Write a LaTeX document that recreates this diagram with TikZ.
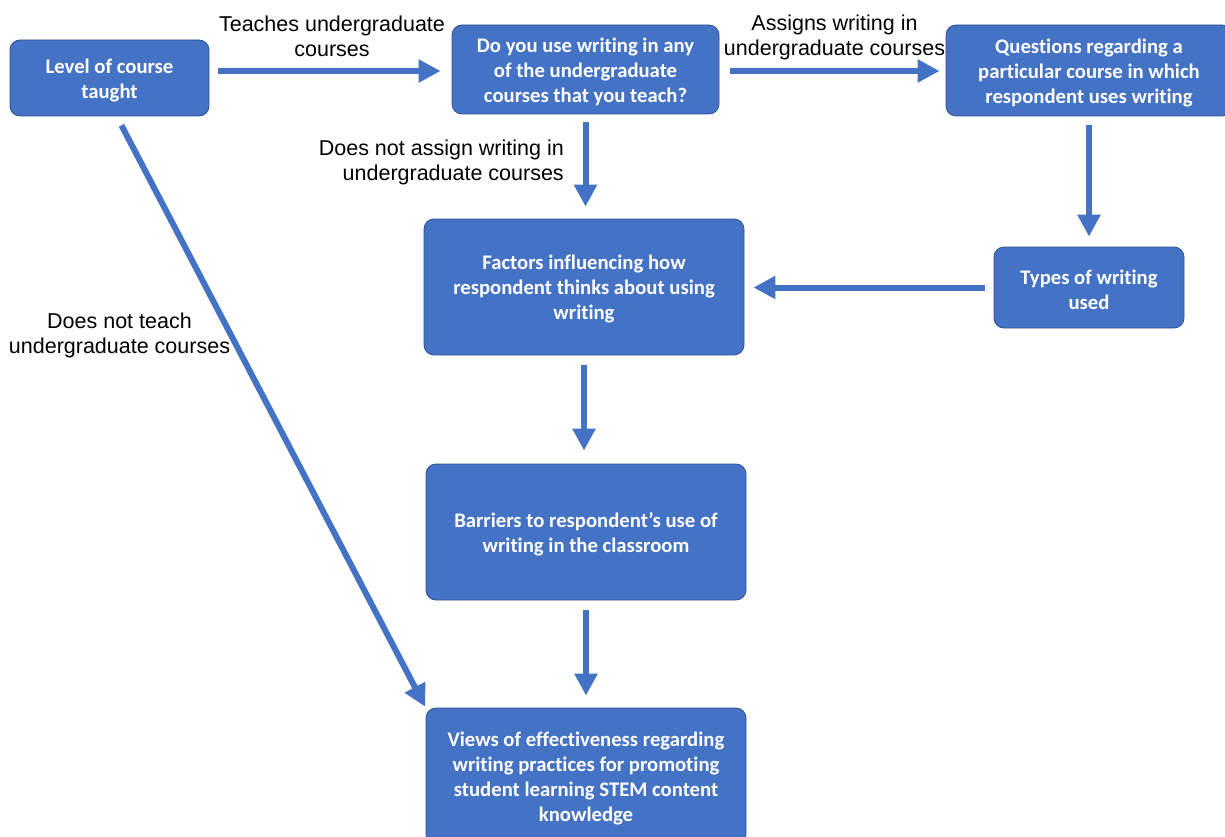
\documentclass[tikz,border=0pt]{standalone}
\usepackage{fontspec}
\setmainfont{Liberation Sans}
\newfontfamily\boxfont[Ligatures={NoCommon}]{Carlito}
\usetikzlibrary{arrows.meta}
\definecolor{boxblue}{HTML}{4472C4}
\definecolor{boxedge}{HTML}{2F528F}
\tikzset{
  flowbox/.style={draw=boxedge, line width=0.8pt, fill=boxblue, rounded corners=10pt,
    text=white, align=center, inner sep=0pt,
    font=\boxfont\bfseries\fontsize{20.7}{25}\selectfont},
  lbl/.style={text=black, inner sep=0pt, font=\fontsize{21.5}{25}\selectfont},
  arr/.style={draw=boxblue, line width=6pt, -{Triangle[length=22pt,width=22pt]}}
}
\begin{document}
\begin{tikzpicture}[x=1pt,y=-1pt]
\clip (0,0) rectangle (1225,837);
\useasboundingbox (0,0) rectangle (1225,837);
% boxes
\node[flowbox, minimum width=199pt, minimum height=76pt] (A) at (109.5,78) {\rule{0pt}{19pt}Level of course\\taught};
\node[flowbox, minimum width=267pt, minimum height=89pt] (B) at (585.5,69.5) {\rule{0pt}{19pt}Do you use writing in any\\of the undergraduate\\courses that you teach?};
\node[flowbox, minimum width=286pt, minimum height=91pt] (C) at (1089,70.5) {\rule{0pt}{19pt}Questions regarding a\\particular course in which\\respondent uses writing};
\node[flowbox, minimum width=190pt, minimum height=81pt] (D) at (1089,287.5) {\rule{0pt}{19pt}Types of writing\\used};
\node[flowbox, minimum width=320pt, minimum height=136pt] (E) at (584,287) {\rule{0pt}{19pt}Factors influencing how\\respondent thinks about using\\writing};
\node[flowbox, minimum width=320pt, minimum height=136pt] (F) at (586,532) {\rule{0pt}{19pt}Barriers to respondent’s use of\\writing in the classroom};
\node[flowbox, minimum width=320pt, minimum height=136pt] (G) at (586,776) {\rule{0pt}{19pt}Views of effectiveness regarding\\writing practices for promoting\\student learning STEM content\\knowledge};
% labels
\node[lbl, align=center] (l1) at (332,36) {Teaches undergraduate\\courses};
\node[lbl, align=center] (l2) at (834.5,37) {Assigns writing in\\undergraduate courses};
\node[lbl, align=right, anchor=east] (l3) at (564,162) {Does not assign writing in\\undergraduate courses};
\node[lbl, align=center] (l4) at (119.5,335) {Does not teach\\undergraduate courses};
% connectors
\draw[arr, shorten <=9pt, shorten >=11pt] (A.east |- 0,71) -- (B.west |- 0,71);
\draw[arr, shorten <=11pt, shorten >=6pt] (B.east |- 0,71) -- (C.west |- 0,71);
\draw[arr, shorten <=8pt, shorten >=12pt] (B.south) -- (B.south |- E.north);
\draw[arr, shorten <=9pt, shorten >=10pt] (D.north |- C.south) -- (D.north);
\draw[arr, shorten <=9pt, shorten >=9pt] (D.west) -- (E.east |- D.west);
\draw[arr, shorten <=10pt, shorten >=13pt] (E.south) -- (E.south |- F.north);
\draw[arr, shorten <=10pt, shorten >=12pt] (F.south) -- (F.south |- G.north);
\draw[arr, shorten >=1pt] ([xshift=12pt,yshift=-9pt]A.south) -- (G.north west);
\end{tikzpicture}
\end{document}
